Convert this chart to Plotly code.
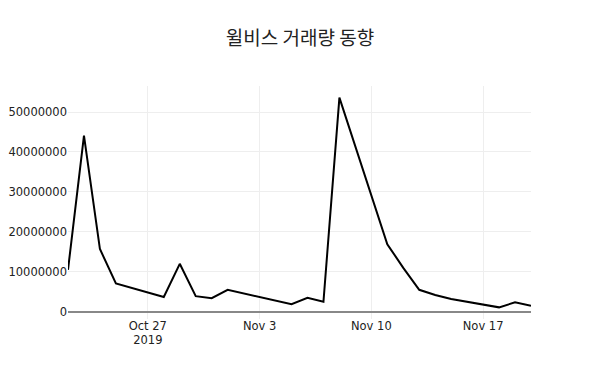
import plotly.graph_objects as go

dates = ["2019-10-22", "2019-10-23", "2019-10-24", "2019-10-25",
         "2019-10-28", "2019-10-29", "2019-10-30", "2019-10-31", "2019-11-01",
         "2019-11-04", "2019-11-05", "2019-11-06", "2019-11-07", "2019-11-08",
         "2019-11-11", "2019-11-12", "2019-11-13", "2019-11-14", "2019-11-15",
         "2019-11-18", "2019-11-19", "2019-11-20"]
volume = [10500000, 44100000, 15700000, 7100000,
          3700000, 12000000, 3900000, 3400000, 5500000,
          2700000, 1900000, 3500000, 2500000, 53600000,
          16900000, 11000000, 5500000, 4200000, 3200000,
          1100000, 2350000, 1500000]

fig = go.Figure(go.Scatter(x=dates, y=volume, mode="lines",
                           line=dict(color="black", width=2)))

fig.update_layout(
    width=600, height=386,
    margin=dict(l=68, r=69, t=86, b=67),
    paper_bgcolor="white", plot_bgcolor="white",
    font=dict(family="DejaVu Sans", size=11.5, color="#222"),
    title=dict(text="윌비스 거래량 동향", x=0.5, xanchor="center",
               y=1 - 38 / 386, yanchor="middle",
               font=dict(family="Noto Sans CJK KR", size=19, color="#222")),
    showlegend=False,
)
fig.update_xaxes(showgrid=True, gridcolor="#eeeeee", gridwidth=1,
                 showline=False, zeroline=False, ticks="", automargin=False,
                 ticklabelstandoff=-2)
fig.update_yaxes(showgrid=True, gridcolor="#eeeeee", gridwidth=1,
                 zeroline=True, zerolinecolor="#888888", zerolinewidth=2,
                 tickformat="d", dtick=10000000, ticks="", automargin=False)

fig.write_html("out.html")
